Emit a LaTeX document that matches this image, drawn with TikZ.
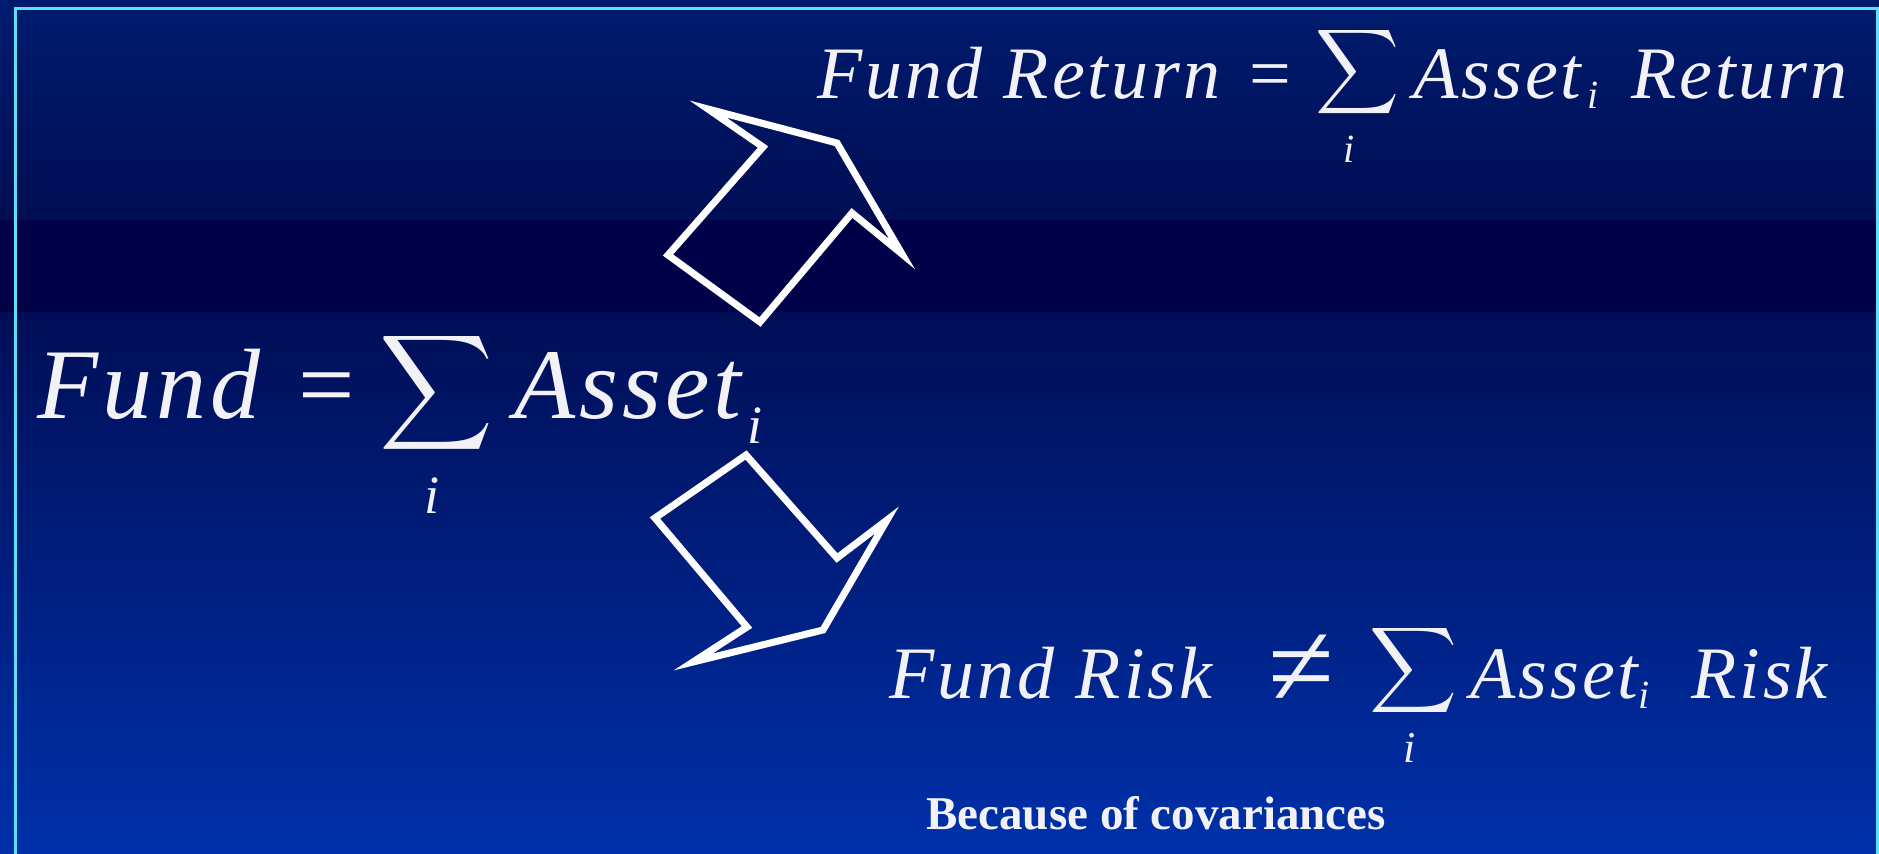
\documentclass[tikz,border=0pt]{standalone}
\usepackage{fontspec}
\setmainfont{Liberation Serif}
\newfontfamily\eqfont[LetterSpace=4]{Liberation Serif}
\definecolor{bgtop}{RGB}{0,27,110}
\definecolor{bgmid}{RGB}{0,14,84}
\definecolor{bgband}{RGB}{0,0,72}
\definecolor{bglow}{RGB}{0,14,86}
\definecolor{bgbot}{RGB}{0,48,170}
\definecolor{rim}{RGB}{90,225,245}
\definecolor{ink}{RGB}{242,242,246}
\tikzset{
	txt/.style={text=ink, inner sep=0pt},
	word/.style={txt, anchor=base west, font=\eqfont\itshape\fontsize{#1}{#1}\selectfont},
	idx/.style={txt, anchor=base west, font=\itshape\fontsize{#1}{#1}\selectfont},
	sign/.style={txt, anchor=base, font=\fontsize{#1}{#1}\selectfont},
	note/.style={txt, anchor=base west, font=\bfseries\fontsize{23.5}{28}\selectfont},
	blockarrow/.style={draw=white, line width=3.5pt, line join=miter, miter limit=10}
}
\begin{document}
\begin{tikzpicture}[x=.5pt, y=-.5pt]
	\useasboundingbox (0,0) rectangle (1879,853);
	% background and frame
	\shade[top color=bgtop, bottom color=bgmid] (0,0) rectangle (1879,220);
	\fill[bgband] (0,220) rectangle (1879,312);
	\shade[top color=bglow, bottom color=bgbot] (0,312) rectangle (1879,853);
	\draw[rim, line width=1.5pt] (15,870) -- (15,8) -- (1877,8) -- (1877,870);
	% Fund = sum Asset
	\node[word=50] (fund) at (37,418) {Fund};
	\node[sign=50] (fundeq) at (327,418) {=};
	\node[txt] (fundsum) at (437,392.5) {\resizebox*{57pt}{64.5pt}{$\displaystyle\sum$}};
	\node[idx=27, anchor=base] (fundi) at (432,513) {i};
	\node[word=50] (asset) at (514,418) {Asset};
	\node[idx=27] (asseti) at (747,443) {i};
	% return line
	\node[word=37] (ret) at (817,98) {Fund Return};
	\node[sign=37] (reteq) at (1270,98) {=};
	\node[txt] (retsum) at (1357,72.5) {\resizebox*{42pt}{47.5pt}{$\displaystyle\sum$}};
	\node[idx=20, anchor=base] (reti) at (1349,162) {i};
	\node[word=37] (retasset) at (1413,98) {Asset};
	\node[idx=20] (retassi) at (1587,108) {i};
	\node[word=37] (retret) at (1631,98) {Return};
	% risk line
	\node[word=37] (risk) at (889,698) {Fund Risk};
	\node[sign=60] (riskne) at (1301,706) {≠};
	\node[txt] (risksum) at (1413,670) {\resizebox*{44pt}{48pt}{$\displaystyle\sum$}};
	\node[idx=22, anchor=base] (riski) at (1410,762) {i};
	\node[word=37] (riskasset) at (1470,698) {Asset};
	\node[idx=20] (riskassi) at (1638,708) {i};
	\node[word=37] (riskrisk) at (1691,698) {Risk};
	\node[note] (cov) at (926,829) {Because of covariances};
	% the two block arrows
	\draw[blockarrow] (668,255) -- (763,147) -- (708,109) -- (837,143) -- (902,254) -- (852,213) -- (760,322) -- cycle;
	\draw[blockarrow] (746,455) -- (655,518) -- (747,627) -- (693,662) -- (823,630) -- (887,520) -- (837,558) -- cycle;
\end{tikzpicture}
\end{document}
